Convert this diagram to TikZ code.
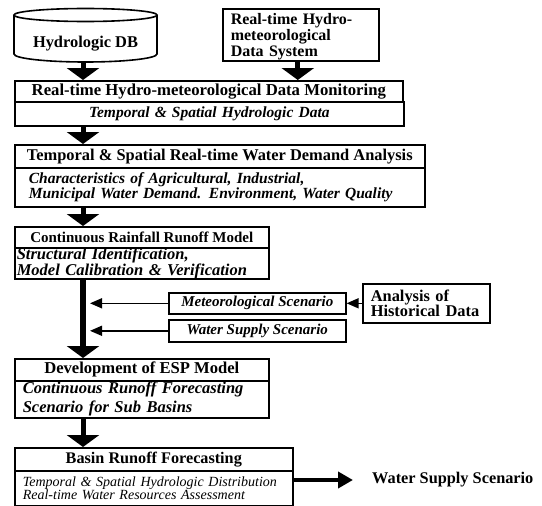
\documentclass[tikz,border=0pt]{standalone}
\usepackage{fontspec}
\setmainfont{Liberation Serif}
\usetikzlibrary{arrows.meta}
\newcommand{\fsz}[2]{\fontsize{#1}{#2}\selectfont}
\begin{document}
\begin{tikzpicture}[x=1pt,y=-1pt,
  frame/.style={draw, line width=1.6pt, anchor=north west},
  hd/.style={frame, inner sep=0pt, align=center, font=\bfseries\fsz{16.4}{16}},
  sb/.style={frame, inner ysep=0pt, align=left, font=\bfseries\itshape\fsz{15.5}{11}},
  bigarrow/.style={line width=5pt, -{Triangle[width=32pt,length=12pt]}},
  medarrow/.style={line width=4pt, -{Triangle[width=16pt,length=15pt]}},
  thinarrow/.style={line width=1.5pt, -{Triangle[width=10pt,length=12pt]}}]
\useasboundingbox (0,0) rectangle (542,506);
\fill[white] (0,0) rectangle (542,506);

% database cylinder
\node[minimum width=143pt, minimum height=54pt, inner sep=0pt,
      font=\bfseries\fsz{16.4}{16}] (db) at (85.5,35)
      {\raisebox{-12pt}[0pt][0pt]{Hydrologic DB}};
\draw[line width=1.6pt] (14,15) -- (14,54)
  arc[start angle=180, end angle=360, x radius=71.5pt, y radius=8pt] -- (157,15);
\draw[line width=1.6pt] (85.5,15) ellipse[x radius=71.5pt, y radius=6.5pt];

% data source
\node[frame, inner xsep=8pt, inner ysep=0pt, minimum height=52pt, text width=140pt,
      align=left, font=\bfseries\fsz{16}{13}] (rt) at (222,8)
      {Real-time Hydro-\\meteorological\\[1pt]\raisebox{0pt}[\height][0pt]{Data System}};

% monitoring
\node[hd, minimum width=388pt, minimum height=21pt, font=\bfseries\fsz{16.7}{16}] (mon) at (14,80)
  {Real-time Hydro-meteorological Data Monitoring};
\node[sb, inner xsep=0pt, text width=389pt, minimum height=24pt, align=center] (monsub) at (14,101)
  {Temporal \& Spatial Hydrologic Data\hspace*{10pt}};

% water demand
\node[hd, minimum width=410pt, minimum height=23pt] (wd) at (14,144)
  {Temporal \& Spatial Real-time Water Demand Analysis};
\node[sb, inner xsep=14pt, text width=382pt, minimum height=39pt] (wdsub) at (14,167)
  {Characteristics of Agricultural, Industrial,\\Municipal Water Demand. Environment, Water Quality};

% rainfall runoff model
\node[hd, minimum width=254pt, minimum height=21pt, font=\bfseries\fsz{15}{15}] (crr) at (14,226)
  {Continuous Rainfall Runoff Model};
\node[sb, inner xsep=2pt, text width=250pt, minimum height=29pt, font=\bfseries\itshape\fsz{16.5}{12}] (crrsub) at (14,247)
  {Structural Identification,\\Model Calibration \& Verification};

% scenarios
\node[frame, inner sep=0pt, minimum width=177pt, minimum height=21pt, font=\bfseries\itshape\fsz{15}{15}] (met) at (168,292)
  {Meteorological Scenario};
\node[frame, inner sep=0pt, minimum width=177pt, minimum height=22pt, font=\bfseries\itshape\fsz{15}{15}] (ws) at (168,319)
  {Water Supply Scenario};
\node[frame, inner xsep=8pt, inner ysep=0pt, text width=111pt, minimum height=39pt, align=left,
      font=\bfseries\fsz{16.4}{12.5}] (hist) at (362,283)
  {Analysis of\\Historical Data};

% ESP model
\node[hd, minimum width=254pt, minimum height=22pt, font=\bfseries\fsz{16.6}{16}] (esp) at (14,358)
  {Development of ESP Model};
\node[sb, inner xsep=8pt, text width=238pt, minimum height=37pt, font=\bfseries\itshape\fsz{16.5}{19}] (espsub) at (14,380)
  {Continuous Runoff Forecasting\\Scenario for Sub Basins};

% basin forecasting
\node[hd, minimum width=278pt, minimum height=23pt, font=\bfseries\fsz{16.2}{16}] (basin) at (14,447)
  {Basin Runoff Forecasting};
\node[sb, inner xsep=8pt, text width=262pt, minimum height=35pt, font=\itshape\fsz{14}{13}] (basinsub) at (14,470)
  {Temporal \& Spatial Hydrologic Distribution\\Real-time Water Resources Assessment};
\node[inner sep=0pt, anchor=west, font=\bfseries\fsz{16.3}{16}] (wsout) at (372,480)
  {Water Supply Scenario};

% connectors
\coordinate (spine) at (83,0);
\coordinate (tip) at (90,0);
\draw[bigarrow] (db.south -| spine) -- (mon.north -| spine);
\draw[bigarrow] ([xshift=-3pt]rt.south) -- ([xshift=-3pt]rt.south |- mon.north);
\draw[bigarrow] (monsub.south -| spine) -- (wd.north -| spine);
\draw[bigarrow] (wdsub.south -| spine) -- (crr.north -| spine);
\draw[bigarrow, line width=6pt] (crrsub.south -| spine) -- (esp.north -| spine);
\draw[bigarrow] (espsub.south -| spine) -- (basin.north -| spine);
\draw[thinarrow] (met.west) -- (met.west -| tip);
\draw[thinarrow] (ws.west) -- (ws.west -| tip);
\draw[thinarrow] (hist.west) -- (met.east);
\draw[medarrow, shorten >=19pt] (basinsub.east |- wsout.west) -- (wsout.west);
\end{tikzpicture}
\end{document}
